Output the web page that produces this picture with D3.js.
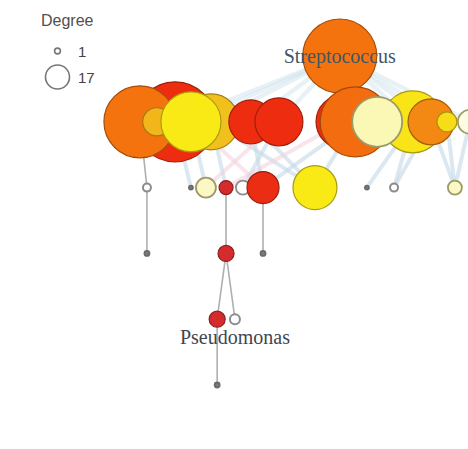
<!DOCTYPE html>
<html>
<head>
<meta charset="utf-8">
<script src="https://cdn.jsdelivr.net/npm/d3@7"></script>
<style>
  body { margin: 0; background: #ffffff; }
  svg { display: block; }
</style>
</head>
<body>
<svg id="chart" width="468" height="449"></svg>
<script>
// ---- network data -------------------------------------------------------
// nodes are listed in drawing order (later entries sit on top)
const nodeIds   = ["strep",
  "aRed", "aAmb", "aOrg", "aGold", "aYel",
  "bRed1", "bRed2",
  "cRed", "cOrg", "cYel", "cCream", "cOrg2", "cYel2", "cCream2",
  "r2Ring1", "r2Dot1", "r2Cream", "r2Red", "r2White", "r2RedBig", "r2Yel", "r2Dot2", "r2Ring2", "r2CRing",
  "r3Dot1", "r3Red", "r3Dot2",
  "r4Red", "r4Ring",
  "r5Dot"];
// hierarchy level of each node
const nodeLevel = [0,
  1, 1, 1, 1, 1,
  1, 1,
  1, 1, 1, 1, 1, 1, 1,
  2, 2, 2, 2, 2, 2, 2, 2, 2, 2,
  3, 3, 3,
  4, 4,
  5];
// position along the level (0-100 layout units)
const nodePos   = [72.6,
  37.4, 45.1, 29.9, 33.5, 40.8,
  53.6, 59.6,
  73.3, 75.9, 88.2, 80.6, 92.1, 95.5, 100.4,
  31.4, 40.8, 44.0, 48.3, 51.9, 56.2, 67.3, 78.4, 84.2, 97.2,
  31.4, 48.3, 56.2,
  46.4, 50.2,
  46.4];
// relative abundance (sets node area)
const nodeAbund = [85.5,
  100, 49, 81, 12.3, 56.3,
  30.3, 36,
  45.6, 76.6, 60, 39, 33, 6.25, 9,
  1, 0.25, 6.25, 3.06, 3.06, 16, 30.3, 0.25, 1, 3.06,
  0.39, 4, 0.39,
  4, 1.56,
  0.39];
// colour score: -1 grey, 0 white, 0.1 cream ... 1 dark red
const nodeTone  = [0.6,
  0.8, 0.45, 0.6, 0.47, 0.3,
  0.8, 0.8,
  0.8, 0.62, 0.32, 0.12, 0.56, 0.35, 0.05,
  0, -1, 0.1, 1, 0, 0.82, 0.3, -1, 0, 0.1,
  -1, 1, -1,
  1, 0,
  -1];
const nodeLabels = { strep: "Streptococcus", r4Ring: "Pseudomonas" };

// links: source, target, kind (s = faint link from the root, w = wide shared link, p = wide pink, t = thin chain link)
const linkSource = ["strep","strep","strep","strep","strep","strep","strep","strep","strep","strep","strep",
  "aOrg","aYel","aYel","aAmb","aAmb","bRed1","bRed2","bRed2","aRed","cOrg","cRed","cOrg","cYel","cYel","cOrg2","cOrg2","cCream2","cYel2","bRed1",
  "r2Ring1","r2Red","r2RedBig","r3Red","r3Red","r4Red"];
const linkTarget = ["aYel","aAmb","bRed1","bRed2","aRed","cYel","cOrg2","cCream2","cYel2","cOrg","cCream",
  "r2Ring1","r2Cream","r2RedBig","r2Red","r2Yel","r2Yel","r2Cream","r2White","r2Dot1","r2RedBig","r2Red","r2Yel","r2Dot2","r2Ring2","r2Ring2","r2CRing","r2CRing","r2CRing","r2RedBig",
  "r3Dot1","r3Red","r3Dot2","r4Red","r4Ring","r5Dot"];
const linkKind = ["s","s","s","s","s","s","s","s","s","s","s",
  "t","w","p","w","w","w","p","w","w","w","p","w","w","w","w","w","w","w","w",
  "t","t","t","t","t","t"];

// legend
const legendTitle = "Degree";
const legendDegrees = [1, 17];

// ---- scales -------------------------------------------------------------
const svg = d3.select("#chart");
const x = d3.scaleLinear().domain([0, 100]).range([0, 468]);
const y = d3.scaleLinear().domain([0, 5]).range([56, 385]);
const r = d3.scaleSqrt().domain([0, 100]).range([0, 40]);
const tone = d3.scaleLinear()
  .domain([-1, -0.01, 0, 0.1, 0.3, 0.45, 0.6, 0.8, 1])
  .range(["#7b7b7b", "#7b7b7b", "#ffffff", "#fbf8c6", "#f9ea16", "#f2c01c", "#f4730f", "#ee2d10", "#d42c2c"])
  .interpolate(d3.interpolateRgb);
const legendR = d3.scaleSqrt().domain([0, 17]).range([0, 12]);

const nodes = nodeIds.map((id, i) => ({
  id, level: nodeLevel[i], pos: nodePos[i], abund: nodeAbund[i], tone: nodeTone[i]
}));
const byId = new Map(nodes.map(n => [n.id, n]));
const links = linkSource.map((s, i) => ({ s: byId.get(s), t: byId.get(linkTarget[i]), kind: linkKind[i] }));

function fillOf(n) { return tone(n.tone); }
function strokeOf(n) {
  if (n.tone < 0) return "#6a6a6a";
  if (n.tone === 0) return "#8c8c8c";
  if (n.tone <= 0.12) return "#9c9a66";
  return d3.color(tone(n.tone)).darker(1.1).formatHex();
}
function strokeW(n) {
  if (n.tone === 0) return r(n.abund) < 6 ? 2 : 1.8;
  if (n.tone <= 0.12) return 1.8;
  return 1.2;
}

// ---- links --------------------------------------------------------------
const linkColor = { s: "#cddfea", w: "#c4d9e8", p: "#f0d0da", t: "#a6a6a6" };
const linkWidth = { s: 4.5, w: 4, p: 4, t: 1.6 };
const linkOpacity = { s: 0.45, w: 0.6, p: 0.55, t: 0.9 };

svg.append("g").attr("class", "links")
  .selectAll("line").data(links).join("line")
  .attr("x1", d => x(d.s.pos)).attr("y1", d => y(d.s.level))
  .attr("x2", d => x(d.t.pos)).attr("y2", d => y(d.t.level))
  .attr("stroke", d => linkColor[d.kind])
  .attr("stroke-width", d => linkWidth[d.kind])
  .attr("stroke-opacity", d => linkOpacity[d.kind])
  .attr("stroke-linecap", "round");

// ---- nodes --------------------------------------------------------------
svg.append("g").attr("class", "nodes")
  .selectAll("circle").data(nodes).join("circle")
  .attr("cx", d => x(d.pos)).attr("cy", d => y(d.level))
  .attr("r", d => r(d.abund))
  .attr("fill", fillOf)
  .attr("stroke", strokeOf)
  .attr("stroke-width", strokeW);

// ---- labels -------------------------------------------------------------
const labelled = nodes.filter(n => nodeLabels[n.id]);
svg.append("g").attr("class", "labels")
  .selectAll("text").data(labelled).join("text")
  .attr("x", d => x(d.pos))
  .attr("y", d => d.id === "strep" ? y(d.level) + 7 : y(d.level) + 25)
  .attr("text-anchor", "middle")
  .attr("font-family", "'Liberation Serif', 'DejaVu Serif', serif")
  .attr("font-size", 20)
  .attr("fill", d => d.id === "strep" ? "#3d5668" : "#3f4650")
  .text(d => nodeLabels[d.id]);

// ---- legend -------------------------------------------------------------
const lg = svg.append("g").attr("class", "legend");
lg.append("text")
  .attr("x", 41).attr("y", 26)
  .attr("font-family", "'Liberation Sans', Arial, sans-serif")
  .attr("font-size", 16)
  .attr("fill", "#505050")
  .text(legendTitle);
const legendRowY = d3.scaleLinear().domain([0, 1]).range([51, 77]);
const items = lg.selectAll("g.item").data(legendDegrees).join("g").attr("class", "item");
items.append("circle")
  .attr("cx", 57.5).attr("cy", (d, i) => legendRowY(i))
  .attr("r", d => Math.max(2.8, legendR(d)))
  .attr("fill", "#fff").attr("stroke", "#777").attr("stroke-width", 1.6);
items.append("text")
  .attr("x", 78).attr("y", (d, i) => legendRowY(i) + 5.5)
  .attr("font-family", "'Liberation Sans', Arial, sans-serif")
  .attr("font-size", 15)
  .attr("fill", "#444")
  .text(d => d);
</script>
</body>
</html>
